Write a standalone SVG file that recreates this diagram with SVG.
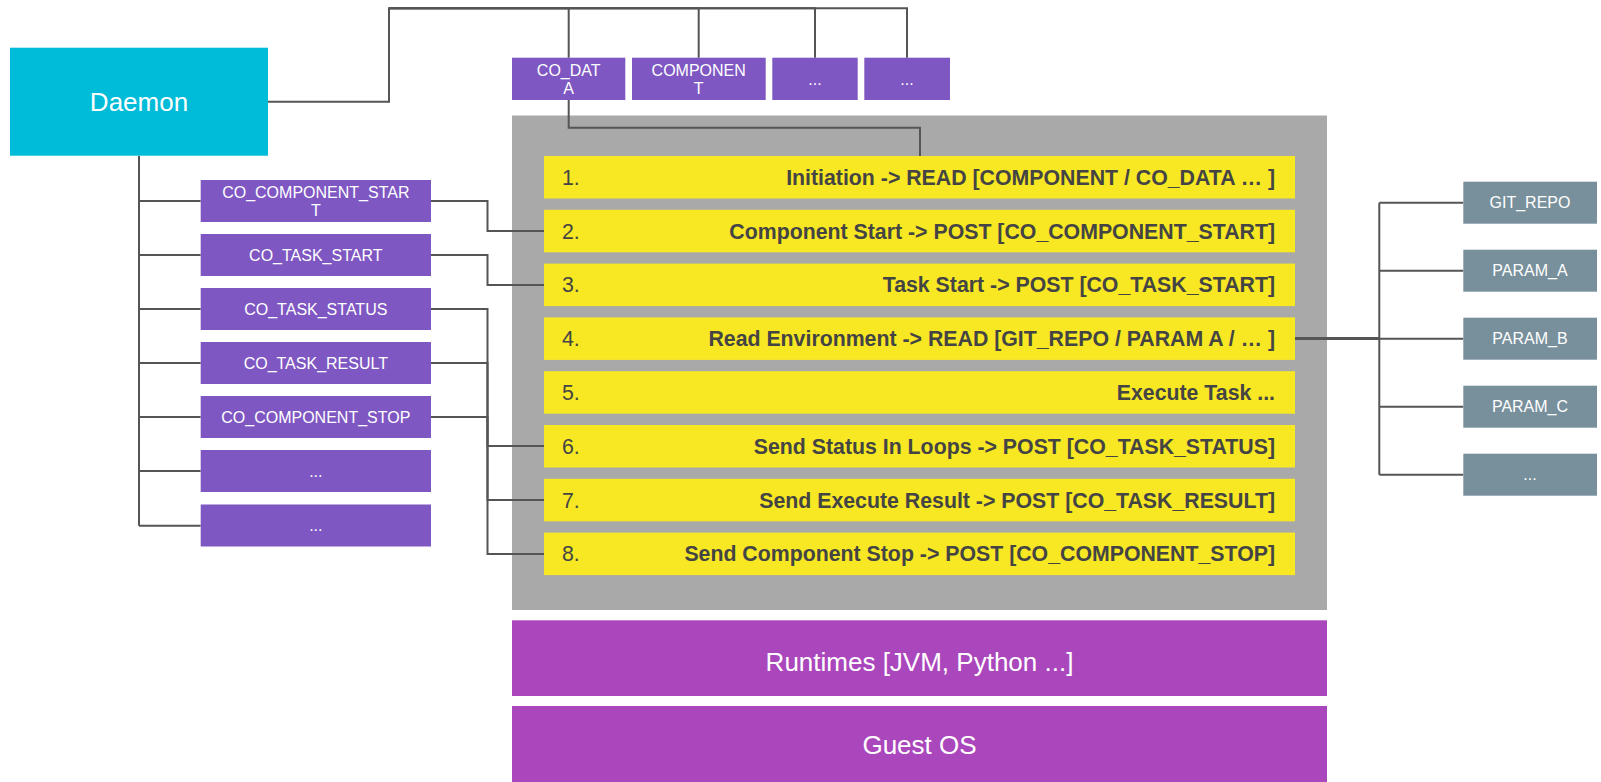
<svg xmlns="http://www.w3.org/2000/svg" width="1601" height="782" viewBox="0 0 1601 782">
<style>
  .cn{fill:none;stroke:#555;stroke-width:2}
  .pur{fill:#7E57C2}
  .slate{fill:#78909C}
  .mag{fill:#AB47BC}
  .yel{fill:#F7E823}
  .wt{fill:#fff;font-family:"Liberation Sans",Arial,sans-serif;font-size:16px;text-anchor:middle}
  .big{fill:#fff;font-family:"Liberation Sans",Arial,sans-serif;font-size:26px;text-anchor:middle}
  .num{fill:#444;font-family:"Liberation Sans",Arial,sans-serif;font-size:21.3px}
  .step{fill:#444;font-family:"Liberation Sans",Arial,sans-serif;font-size:21.3px;font-weight:bold;text-anchor:end}
</style>
<rect width="1601" height="782" fill="#fff"/>

<g id="container">
  <rect x="512" y="115.5" width="815" height="494.5" fill="#A9A9A9"/>
</g>

<g id="connectors">
  <path class="cn" d="M268 101.7H389V8.3H568.7V57.7"/>
  <path class="cn" d="M389 8.3H698.7V57.7"/>
  <path class="cn" d="M389 8.3H815V57.7"/>
  <path class="cn" d="M389 8.3H907V57.7"/>
  <path class="cn" d="M568.7 100V127.7H920V156"/>
  <path class="cn" d="M139 155.7V525.7"/>
  <path class="cn" d="M139 201H200.7M139 255H200.7M139 309H200.7M139 363H200.7M139 417H200.7M139 471H200.7M139 525.7H200.7"/>
  <path class="cn" d="M431 201H487.5V231H544"/>
  <path class="cn" d="M431 255H487.5V285H544"/>
  <path class="cn" d="M431 309H487.5V446H544"/>
  <path class="cn" d="M431 363H487.5V500H544"/>
  <path class="cn" d="M431 417H487.5V554H544"/>
  <path class="cn" style="stroke-width:3" d="M1295 338.5H1379.3"/>
  <path class="cn" d="M1379.3 202.7V474.7"/>
  <path class="cn" d="M1379.3 202.7H1463.3M1379.3 270.7H1463.3M1379.3 338.7H1463.3M1379.3 406.7H1463.3M1379.3 474.7H1463.3"/>
</g>

<g id="daemon">
  <rect x="10" y="47.7" width="258" height="108" fill="#00BCD8"/>
  <text class="big" x="139" y="111">Daemon</text>
</g>

<g id="top-co-data">
  <rect class="pur" x="512" y="57.7" width="113.3" height="42.3"/>
  <text class="wt" x="568.7" y="76.3">CO_DAT</text>
  <text class="wt" x="568.7" y="94">A</text>
</g>
<g id="top-component">
  <rect class="pur" x="632" y="57.7" width="133.7" height="42.3"/>
  <text class="wt" x="698.7" y="76.3">COMPONEN</text>
  <text class="wt" x="698.7" y="94">T</text>
</g>
<g id="top-etc1">
  <rect class="pur" x="772.3" y="57.7" width="85.4" height="42.3"/>
  <text class="wt" x="815" y="84.5">...</text>
</g>
<g id="top-etc2">
  <rect class="pur" x="864.3" y="57.7" width="85.7" height="42.3"/>
  <text class="wt" x="907" y="84.5">...</text>
</g>

<g id="left-component-start">
  <rect class="pur" x="200.7" y="180" width="230.3" height="42"/>
  <text class="wt" x="315.8" y="197.9">CO_COMPONENT_STAR</text>
  <text class="wt" x="315.8" y="215.6">T</text>
</g>
<g id="left-task-start">
  <rect class="pur" x="200.7" y="234" width="230.3" height="42"/>
  <text class="wt" x="315.8" y="260.7">CO_TASK_START</text>
</g>
<g id="left-task-status">
  <rect class="pur" x="200.7" y="288" width="230.3" height="42"/>
  <text class="wt" x="315.8" y="314.7">CO_TASK_STATUS</text>
</g>
<g id="left-task-result">
  <rect class="pur" x="200.7" y="342" width="230.3" height="42"/>
  <text class="wt" x="315.8" y="368.7">CO_TASK_RESULT</text>
</g>
<g id="left-component-stop">
  <rect class="pur" x="200.7" y="396" width="230.3" height="42"/>
  <text class="wt" x="315.8" y="422.7">CO_COMPONENT_STOP</text>
</g>
<g id="left-etc1">
  <rect class="pur" x="200.7" y="450" width="230.3" height="42"/>
  <text class="wt" x="315.8" y="476.7">...</text>
</g>
<g id="left-etc2">
  <rect class="pur" x="200.7" y="504.5" width="230.3" height="42"/>
  <text class="wt" x="315.8" y="531.2">...</text>
</g>

<g id="step1">
  <rect class="yel" x="544" y="156" width="751" height="42.5"/>
  <text class="num" x="562" y="184.8">1.</text>
  <text class="step" x="1275" y="184.8">Initiation -&gt; READ [COMPONENT / CO_DATA … ]</text>
</g>
<g id="step2">
  <rect class="yel" x="544" y="209.8" width="751" height="42.5"/>
  <text class="num" x="562" y="238.6">2.</text>
  <text class="step" x="1275" y="238.6">Component Start -&gt; POST [CO_COMPONENT_START]</text>
</g>
<g id="step3">
  <rect class="yel" x="544" y="263.6" width="751" height="42.5"/>
  <text class="num" x="562" y="292.4">3.</text>
  <text class="step" x="1275" y="292.4">Task Start -&gt; POST [CO_TASK_START]</text>
</g>
<g id="step4">
  <rect class="yel" x="544" y="317.4" width="751" height="42.5"/>
  <text class="num" x="562" y="346.2">4.</text>
  <text class="step" x="1275" y="346.2">Read Environment -&gt; READ [GIT_REPO / PARAM A / … ]</text>
</g>
<g id="step5">
  <rect class="yel" x="544" y="371.2" width="751" height="42.5"/>
  <text class="num" x="562" y="400">5.</text>
  <text class="step" x="1275" y="400">Execute Task ...</text>
</g>
<g id="step6">
  <rect class="yel" x="544" y="425" width="751" height="42.5"/>
  <text class="num" x="562" y="453.8">6.</text>
  <text class="step" x="1275" y="453.8">Send Status In Loops -&gt; POST [CO_TASK_STATUS]</text>
</g>
<g id="step7">
  <rect class="yel" x="544" y="478.8" width="751" height="42.5"/>
  <text class="num" x="562" y="507.6">7.</text>
  <text class="step" x="1275" y="507.6">Send Execute Result -&gt; POST [CO_TASK_RESULT]</text>
</g>
<g id="step8">
  <rect class="yel" x="544" y="532.6" width="751" height="42.5"/>
  <text class="num" x="562" y="561.4">8.</text>
  <text class="step" x="1275" y="561.4">Send Component Stop -&gt; POST [CO_COMPONENT_STOP]</text>
</g>

<g id="git-repo">
  <rect class="slate" x="1463.3" y="181.7" width="133.7" height="42"/>
  <text class="wt" x="1530" y="208.4">GIT_REPO</text>
</g>
<g id="param-a">
  <rect class="slate" x="1463.3" y="249.7" width="133.7" height="42"/>
  <text class="wt" x="1530" y="276.4">PARAM_A</text>
</g>
<g id="param-b">
  <rect class="slate" x="1463.3" y="317.7" width="133.7" height="42"/>
  <text class="wt" x="1530" y="344.4">PARAM_B</text>
</g>
<g id="param-c">
  <rect class="slate" x="1463.3" y="385.7" width="133.7" height="42"/>
  <text class="wt" x="1530" y="412.4">PARAM_C</text>
</g>
<g id="param-etc">
  <rect class="slate" x="1463.3" y="453.7" width="133.7" height="42"/>
  <text class="wt" x="1530" y="480.4">...</text>
</g>

<g id="runtimes">
  <rect class="mag" x="512" y="620.3" width="815" height="75.7"/>
  <text class="big" x="919.5" y="671">Runtimes [JVM, Python ...]</text>
</g>
<g id="guest-os">
  <rect class="mag" x="512" y="706" width="815" height="80"/>
  <text class="big" x="919.5" y="754">Guest OS</text>
</g>
</svg>
